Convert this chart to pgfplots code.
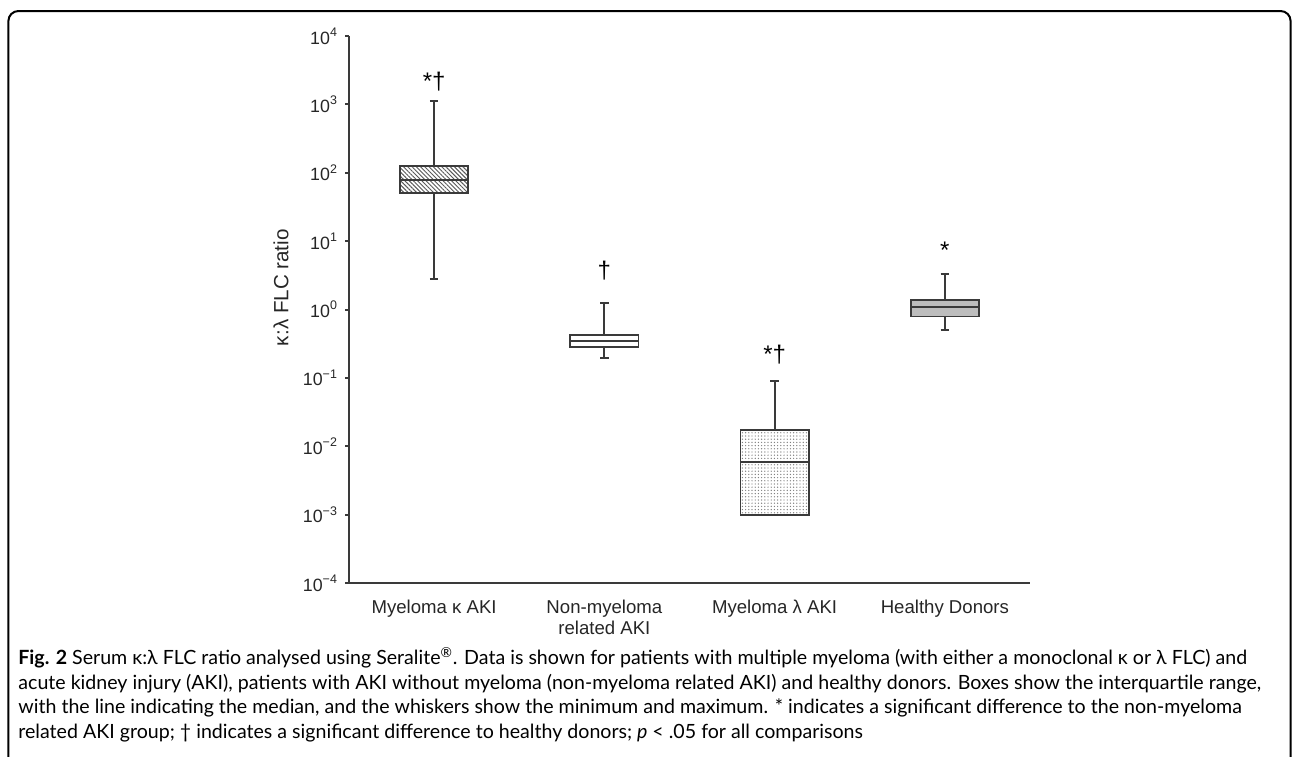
\documentclass[border=0pt]{standalone}
\usepackage{fontspec}
\setmainfont{Liberation Sans}
\newfontfamily\capfont{Lato}
\usepackage{pgfplots}
\pgfplotsset{compat=1.18}
\usepgfplotslibrary{statistics}
\usetikzlibrary{patterns.meta}
\definecolor{ax}{HTML}{3A3A3A}
\definecolor{boxgray}{HTML}{BDBDBD}
\begin{document}
\begin{tikzpicture}
\useasboundingbox (0,0) rectangle (646pt,-378pt);
\draw[line width=1pt, rounded corners=5pt] (4.2pt,-395pt) -- (4.2pt,-5.5pt) -- (645.3pt,-5.5pt) -- (645.3pt,-395pt);
% values are log10 of the kappa:lambda ratio
\begin{axis}[
  at={(174.5pt,-291.5pt)}, anchor=south west,
  scale only axis, width=340.5pt, height=273.5pt,
  ymin=-4, ymax=4,
  xmin=0, xmax=4,
  axis x line*=bottom, axis y line*=left,
  axis line style={ax, line width=1pt, -},
  xtick={0.5,1.5,2.5,3.5},
  xticklabels={Myeloma κ AKI, {Non-myeloma\\related AKI}, Myeloma λ AKI, Healthy Donors},
  xticklabel style={align=center, yshift=-3pt, font=\fontsize{9.3}{10.5}\selectfont},
  x tick style={draw=none},
  ytick={-4,-3,-2,-1,0,1,2,3,4},
  yticklabels={10\textsuperscript{−4},10\textsuperscript{−3},10\textsuperscript{−2},10\textsuperscript{−1},10\textsuperscript{0},10\textsuperscript{1},10\textsuperscript{2},10\textsuperscript{3},10\textsuperscript{4}},
  tick align=outside,
  major tick length=2pt,
  y tick style={ax, line width=1pt},
  yticklabel style={font=\fontsize{8.9}{10.5}\selectfont},
  tick label style={text=black!85},
  clip=false,
  boxplot/draw direction=y,
  boxplot/box extend=0.4,
  boxplot/whisker extend=0.05,
]
\addplot[draw=ax, line width=0.9pt,
  boxplot/every box/.style={pattern={Lines[angle=-45,distance=1.5pt,line width=0.5pt]}, pattern color=ax!85},
  boxplot prepared={draw position=0.5, lower whisker=0.447, lower quartile=1.705, median=1.895, upper quartile=2.100, upper whisker=3.049}] coordinates {};
\addplot[draw=ax, line width=0.9pt,
  boxplot/every box/.style={fill=white},
  boxplot prepared={draw position=1.5, lower whisker=-0.710, lower quartile=-0.547, median=-0.456, upper quartile=-0.371, upper whisker=0.100}] coordinates {};
\addplot[draw=ax, line width=0.9pt,
  boxplot/every box/.style={pattern={Dots[distance=1.6pt,radius=0.35pt]}, pattern color=gray},
  boxplot prepared={draw position=2.5, lower whisker=-3.0, lower quartile=-3.0, median=-2.229, upper quartile=-1.764, upper whisker=-1.046}] coordinates {};
\addplot[draw=ax, line width=0.9pt,
  boxplot/every box/.style={fill=boxgray},
  boxplot prepared={draw position=3.5, lower whisker=-0.301, lower quartile=-0.102, median=0.033, upper quartile=0.140, upper whisker=0.516}] coordinates {};
\node[rotate=90, font=\fontsize{10.3}{12}\selectfont, text=black!85] at (axis description cs:-0.1,0.54) {κ:λ FLC ratio};
\node[anchor=base, font=\fontsize{12}{14}\selectfont] at (axis cs:0.5,3.22) {*†};
\node[anchor=base, font=\fontsize{12}{14}\selectfont] at (axis cs:1.5,0.46) {†};
\node[anchor=base, font=\fontsize{12}{14}\selectfont] at (axis cs:2.5,-0.77) {*†};
\node[anchor=base, font=\fontsize{12}{14}\selectfont] at (axis cs:3.5,0.74) {*};
\end{axis}
\node[anchor=north west, inner sep=0pt, align=left, font=\capfont\fontsize{9.8}{12.3}\selectfont] at (9pt,-323.5pt) {\textbf{Fig. 2} Serum κ:λ FLC ratio analysed using Seralite\textsuperscript{®}. Data is shown for patients with multiple myeloma (with either a monoclonal κ or λ FLC) and\\
acute kidney injury (AKI), patients with AKI without myeloma (non-myeloma related AKI) and healthy donors. Boxes show the interquartile range,\\
with the line indicating the median, and the whiskers show the minimum and maximum. * indicates a significant difference to the non-myeloma\\
related AKI group; † indicates a significant difference to healthy donors; \textit{p} < .05 for all comparisons};
\end{tikzpicture}
\end{document}
